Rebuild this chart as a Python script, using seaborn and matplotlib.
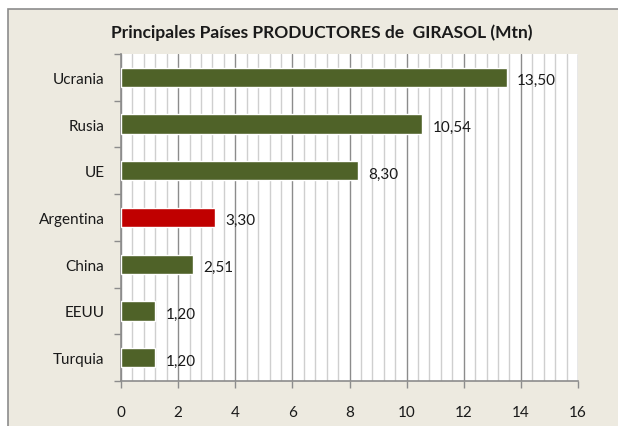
import pandas as pd
import seaborn as sns
import matplotlib.pyplot as plt
from matplotlib.patches import Rectangle
from matplotlib.ticker import MultipleLocator, FixedLocator

paises = ["Ucrania", "Rusia", "UE", "Argentina", "China", "EEUU", "Turquia"]
produccion = [13.50, 10.54, 8.30, 3.30, 2.51, 1.20, 1.20]
colores = ["#4F6228", "#4F6228", "#4F6228", "#C00000", "#4F6228", "#4F6228", "#4F6228"]
ticks_x = [0, 2, 4, 6, 8, 10, 12, 14, 16]

df = pd.DataFrame({"pais": paises, "mtn": produccion})

sns.set_style("white")
plt.rcParams["font.family"] = ["Lato", "DejaVu Sans"]

fig = plt.figure(figsize=(6.18, 4.27), dpi=100)
fig.patch.set_facecolor("white")
W, H = 618, 427
# fondo beige con borde gris
fig.patches.append(Rectangle((8 / W, -0.05), 1, 1.05 - 10 / H, transform=fig.transFigure,
                             facecolor="#EDEAE0", edgecolor="#8C8C8C", linewidth=1.2, zorder=-5))

ax = fig.add_axes([121 / W, 1 - 382 / H, (578 - 121) / W, (382 - 55) / H])
ax.set_facecolor("white")

sns.barplot(data=df, y="pais", x="mtn", hue="pais", palette=colores, legend=False,
            width=0.41, saturation=1, ax=ax, zorder=3)

# etiquetas de valores con coma decimal
for i, v in enumerate(produccion):
    ax.text(v + 0.36, i + 0.06, f"{v:.2f}".replace(".", ","), va="center", ha="left",
            fontsize=11, color="#1a1a1a", zorder=4)

ax.set_xlim(0, 16)
ax.set_ylim(6.5, -0.5)
ax.xaxis.set_major_locator(FixedLocator(ticks_x))
ax.xaxis.set_minor_locator(MultipleLocator(0.4))
ax.grid(which="major", axis="x", color="#8C8C8C", linewidth=1.0, zorder=1)
ax.grid(which="minor", axis="x", color="#CFCFCF", linewidth=1.0, zorder=1)
ax.set_axisbelow(True)

ax.yaxis.set_minor_locator(FixedLocator([i - 0.5 for i in range(8)]))
ax.tick_params(axis="y", which="major", length=0, pad=12, labelsize=11, labelcolor="#1a1a1a")
ax.tick_params(axis="y", which="minor", length=5, width=1, color="#8C8C8C", direction="out", left=True)
ax.tick_params(axis="x", which="major", length=5, width=1, color="#8C8C8C", direction="out",
               bottom=True, pad=12, labelsize=11, labelcolor="#1a1a1a")
ax.tick_params(axis="x", which="minor", length=0)

ax.set_xlabel("")
ax.set_ylabel("")
for s in ["top", "right"]:
    ax.spines[s].set_visible(False)
for s in ["left", "bottom"]:
    ax.spines[s].set_color("#8C8C8C")
    ax.spines[s].set_linewidth(1.2)

fig.text(322 / W, 1 - 33 / H, "Principales Países PRODUCTORES de  GIRASOL (Mtn)",
         ha="center", va="center", fontsize=12.5, fontweight="bold", color="#1a1a1a")

fig.savefig("out.png", dpi=100, facecolor=fig.get_facecolor())
